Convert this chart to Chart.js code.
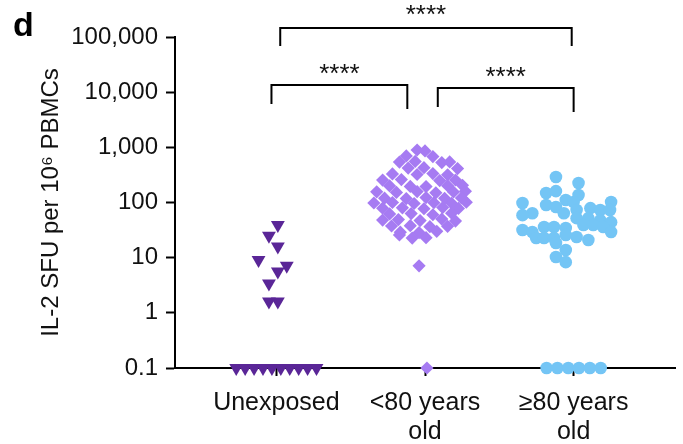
<!DOCTYPE html>
<html>
<head>
<meta charset="utf-8">
<script src="https://cdn.jsdelivr.net/npm/chart.js@4/dist/chart.umd.min.js"></script>
<style>
  html, body { margin: 0; padding: 0; background: #fff; }
  canvas { display: block; }
</style>
</head>
<body>
<canvas id="c" width="683" height="444"></canvas>
<script>
// Groups on the x axis (multi-line labels)
const categories = [['Unexposed'], ['<80 years', 'old'], ['\u226580 years', 'old']];

// Log-axis ticks
const yTickValues = [100000, 10000, 1000, 100, 10, 1, 0.1];
const yTickLabels = ['100,000', '10,000', '1,000', '100', '10', '1', '0.1'];

// IL-2 SFU per 10^6 PBMCs, one entry per donor; 0.1 marks no response
const unexposedValues = [39, 25, 16, 9.1, 7.1, 5.6, 3.4, 1.6, 1.6,
  0.1, 0.1, 0.1, 0.1, 0.1, 0.1, 0.1, 0.1, 0.1, 0.1];
const unexposedJitter = [0.01, -0.05, 0.01, -0.12, 0.07, 0.01, -0.05, -0.05, 0.01,
  -0.27, -0.21, -0.15, -0.09, -0.03, 0.03, 0.09, 0.15, 0.21, 0.27];

const under80Values = [
  894, 860,
  700, 680,
  540, 555, 530, 545,
  420, 428, 412,
  330, 322, 334, 318,
  255, 260, 250, 256,
  200, 196, 194, 202, 205,
  156, 152, 158, 150, 155, 160,
  120, 118, 123, 119, 121,
  98, 100, 96, 99, 97, 101,
  79, 80, 77, 81, 78,
  62, 63, 60, 64,
  48, 49, 47, 50, 46,
  37.5, 38, 36.5, 37,
  29, 28.5, 30,
  22.7, 23,
  25.8,
  7.1,
  0.1];
const under80Jitter = [
  -0.053, 0.0,
  -0.126, 0.053,
  -0.172, -0.066, 0.113, 0.166,
  -0.113, -0.007, 0.219,
  -0.219, -0.053, 0.053, 0.152,
  -0.285, -0.159, 0.099, 0.205,
  -0.238, -0.099, 0.007, 0.152, 0.252,
  -0.325, -0.192, -0.053, 0.073, 0.192, 0.272,
  -0.272, -0.126, 0.007, 0.132, 0.245,
  -0.344, -0.219, -0.073, 0.06, 0.179, 0.278,
  -0.285, -0.152, -0.007, 0.119, 0.225,
  -0.238, -0.093, 0.053, 0.179,
  -0.285, -0.179, -0.033, 0.113, 0.205,
  -0.225, -0.099, 0.033, 0.152,
  -0.166, -0.04, 0.079,
  -0.086, 0.007,
  -0.172,
  -0.04,
  0.013];

const over80Values = [
  290, 225, 149, 161, 137, 98, 102, 90, 83, 111, 102,
  64, 59, 64, 73, 79, 73, 73,
  52, 52, 48, 44,
  31.7, 29.2, 36, 36, 34.5, 39, 39, 36, 29.2,
  22.7, 22.7, 22.7, 25.8, 23.7, 20.9,
  18.5, 13.8, 10.3, 8.3,
  0.1, 0.1, 0.1, 0.1, 0.1, 0.1];
const over80Jitter = [
  -0.119, 0.033, -0.185, -0.119, 0.033, -0.344, 0.252, -0.185, -0.119, -0.053, 0.0,
  -0.278, -0.344, -0.066, 0.02, 0.113, 0.179, 0.245,
  0.02, 0.099, 0.179, 0.252,
  -0.344, -0.278, -0.199, -0.132, -0.053, 0.066, 0.132, 0.199, 0.252,
  -0.252, -0.199, -0.132, -0.053, 0.02, 0.099,
  -0.119, -0.053, -0.119, -0.053,
  -0.182, -0.109, -0.036, 0.036, 0.109, 0.182];

// Pairwise comparisons: [from group, to group, significance]
const comparisons = [
  { from: 1, to: 3, label: '****' },
  { from: 1, to: 2, label: '****' },
  { from: 2, to: 3, label: '****' }
];

function toPoints(values, jitter, group) {
  return values.map((v, i) => ({ x: group + jitter[i], y: v }));
}

const FONT = '"Liberation Sans", Arial, Helvetica, sans-serif';

// Significance brackets and panel letter
const annotations = {
  id: 'annotations',
  afterDraw(chart) {
    const { ctx, scales: { x, y } } = chart;
    // bracket geometry: horizontal bar level and leg ends (log10 units), x nudges in group units
    const shapes = [
      { bar: 5.163, legL: 4.836, legR: 4.836, dxL: 0.026, dxR: -0.013, gap: 20 },
      { bar: 4.13, legL: 3.785, legR: 3.695, dxL: -0.033, dxR: -0.119, gap: 18 },
      { bar: 4.075, legL: 3.731, legR: 3.64, dxL: 0.086, dxR: 0.0, gap: 18 }
    ];
    ctx.save();
    ctx.strokeStyle = '#000';
    ctx.lineWidth = 2;
    ctx.lineCap = 'butt';
    comparisons.forEach((c, i) => {
      const s = shapes[i];
      const x1 = x.getPixelForValue(c.from + s.dxL);
      const x2 = x.getPixelForValue(c.to + s.dxR);
      const yb = y.getPixelForValue(Math.pow(10, s.bar));
      const y1 = y.getPixelForValue(Math.pow(10, s.legL));
      const y2 = y.getPixelForValue(Math.pow(10, s.legR));
      ctx.beginPath();
      ctx.moveTo(x1, y1);
      ctx.lineTo(x1, yb);
      ctx.lineTo(x2, yb);
      ctx.lineTo(x2, y2);
      ctx.stroke();
      ctx.fillStyle = '#111';
      ctx.font = '26px ' + FONT;
      ctx.textAlign = 'center';
      ctx.textBaseline = 'alphabetic';
      ctx.fillText(c.label, (x1 + x2) / 2, yb - s.gap + 15);
    });
    ctx.fillStyle = '#000';
    ctx.font = 'bold 34px ' + FONT;
    ctx.textAlign = 'left';
    ctx.textBaseline = 'alphabetic';
    ctx.fillText('d', 13, 36);
    ctx.restore();
  }
};

new Chart(document.getElementById('c'), {
  type: 'scatter',
  data: {
    datasets: [
      {
        label: 'Unexposed',
        data: toPoints(unexposedValues, unexposedJitter, 1),
        pointStyle: 'triangle',
        rotation: 180,
        radius: 8,
        backgroundColor: '#5a2697',
        borderWidth: 0,
        clip: false
      },
      {
        label: '<80 years old',
        data: toPoints(under80Values, under80Jitter, 2),
        pointStyle: 'rectRot',
        radius: 6.6,
        backgroundColor: '#a67bf2',
        borderWidth: 0,
        clip: false
      },
      {
        label: '\u226580 years old',
        data: toPoints(over80Values, over80Jitter, 3),
        pointStyle: 'circle',
        radius: 6.3,
        backgroundColor: '#74c5f5',
        borderWidth: 0,
        clip: false
      }
    ]
  },
  options: {
    responsive: false,
    animation: false,
    devicePixelRatio: 1,
    events: [],
    layout: { padding: { top: 37, right: 0, bottom: 0, left: 0 } },
    plugins: {
      legend: { display: false },
      tooltip: { enabled: false }
    },
    scales: {
      x: {
        type: 'linear',
        min: 0.318,
        max: 3.682,
        afterFit(scale) { scale.height = 76; },
        afterBuildTicks(scale) {
          scale.ticks = categories.map((_, i) => ({ value: i + 1 }));
        },
        ticks: {
          callback(value) { return categories[Math.round(value) - 1]; },
          color: '#111',
          font: { family: FONT, size: 25, lineHeight: 1.16 },
          padding: 13,
          maxRotation: 0,
          autoSkip: false
        },
        grid: {
          drawOnChartArea: false,
          drawTicks: true,
          tickLength: 8,
          tickColor: '#000',
          tickWidth: 2
        },
        border: { display: true, color: '#000', width: 2 }
      },
      y: {
        type: 'logarithmic',
        min: 0.1,
        max: 100000,
        afterFit(scale) { scale.width = 175; },
        afterBuildTicks(scale) {
          scale.ticks = yTickValues.map(v => ({ value: v }));
        },
        ticks: {
          callback(value) { return yTickLabels[yTickValues.indexOf(value)]; },
          color: '#111',
          font: { family: FONT, size: 24 },
          padding: 8,
          autoSkip: false
        },
        grid: {
          drawOnChartArea: false,
          drawTicks: true,
          tickLength: 9,
          tickColor: '#000',
          tickWidth: 2
        },
        border: { display: true, color: '#000', width: 2 },
        title: {
          display: true,
          text: 'IL-2 SFU per 10\u2076 PBMCs',
          color: '#111',
          font: { family: FONT, size: 24 },
          padding: { top: 37, bottom: 0 }
        }
      }
    }
  },
  plugins: [annotations]
});
</script>
</body>
</html>
